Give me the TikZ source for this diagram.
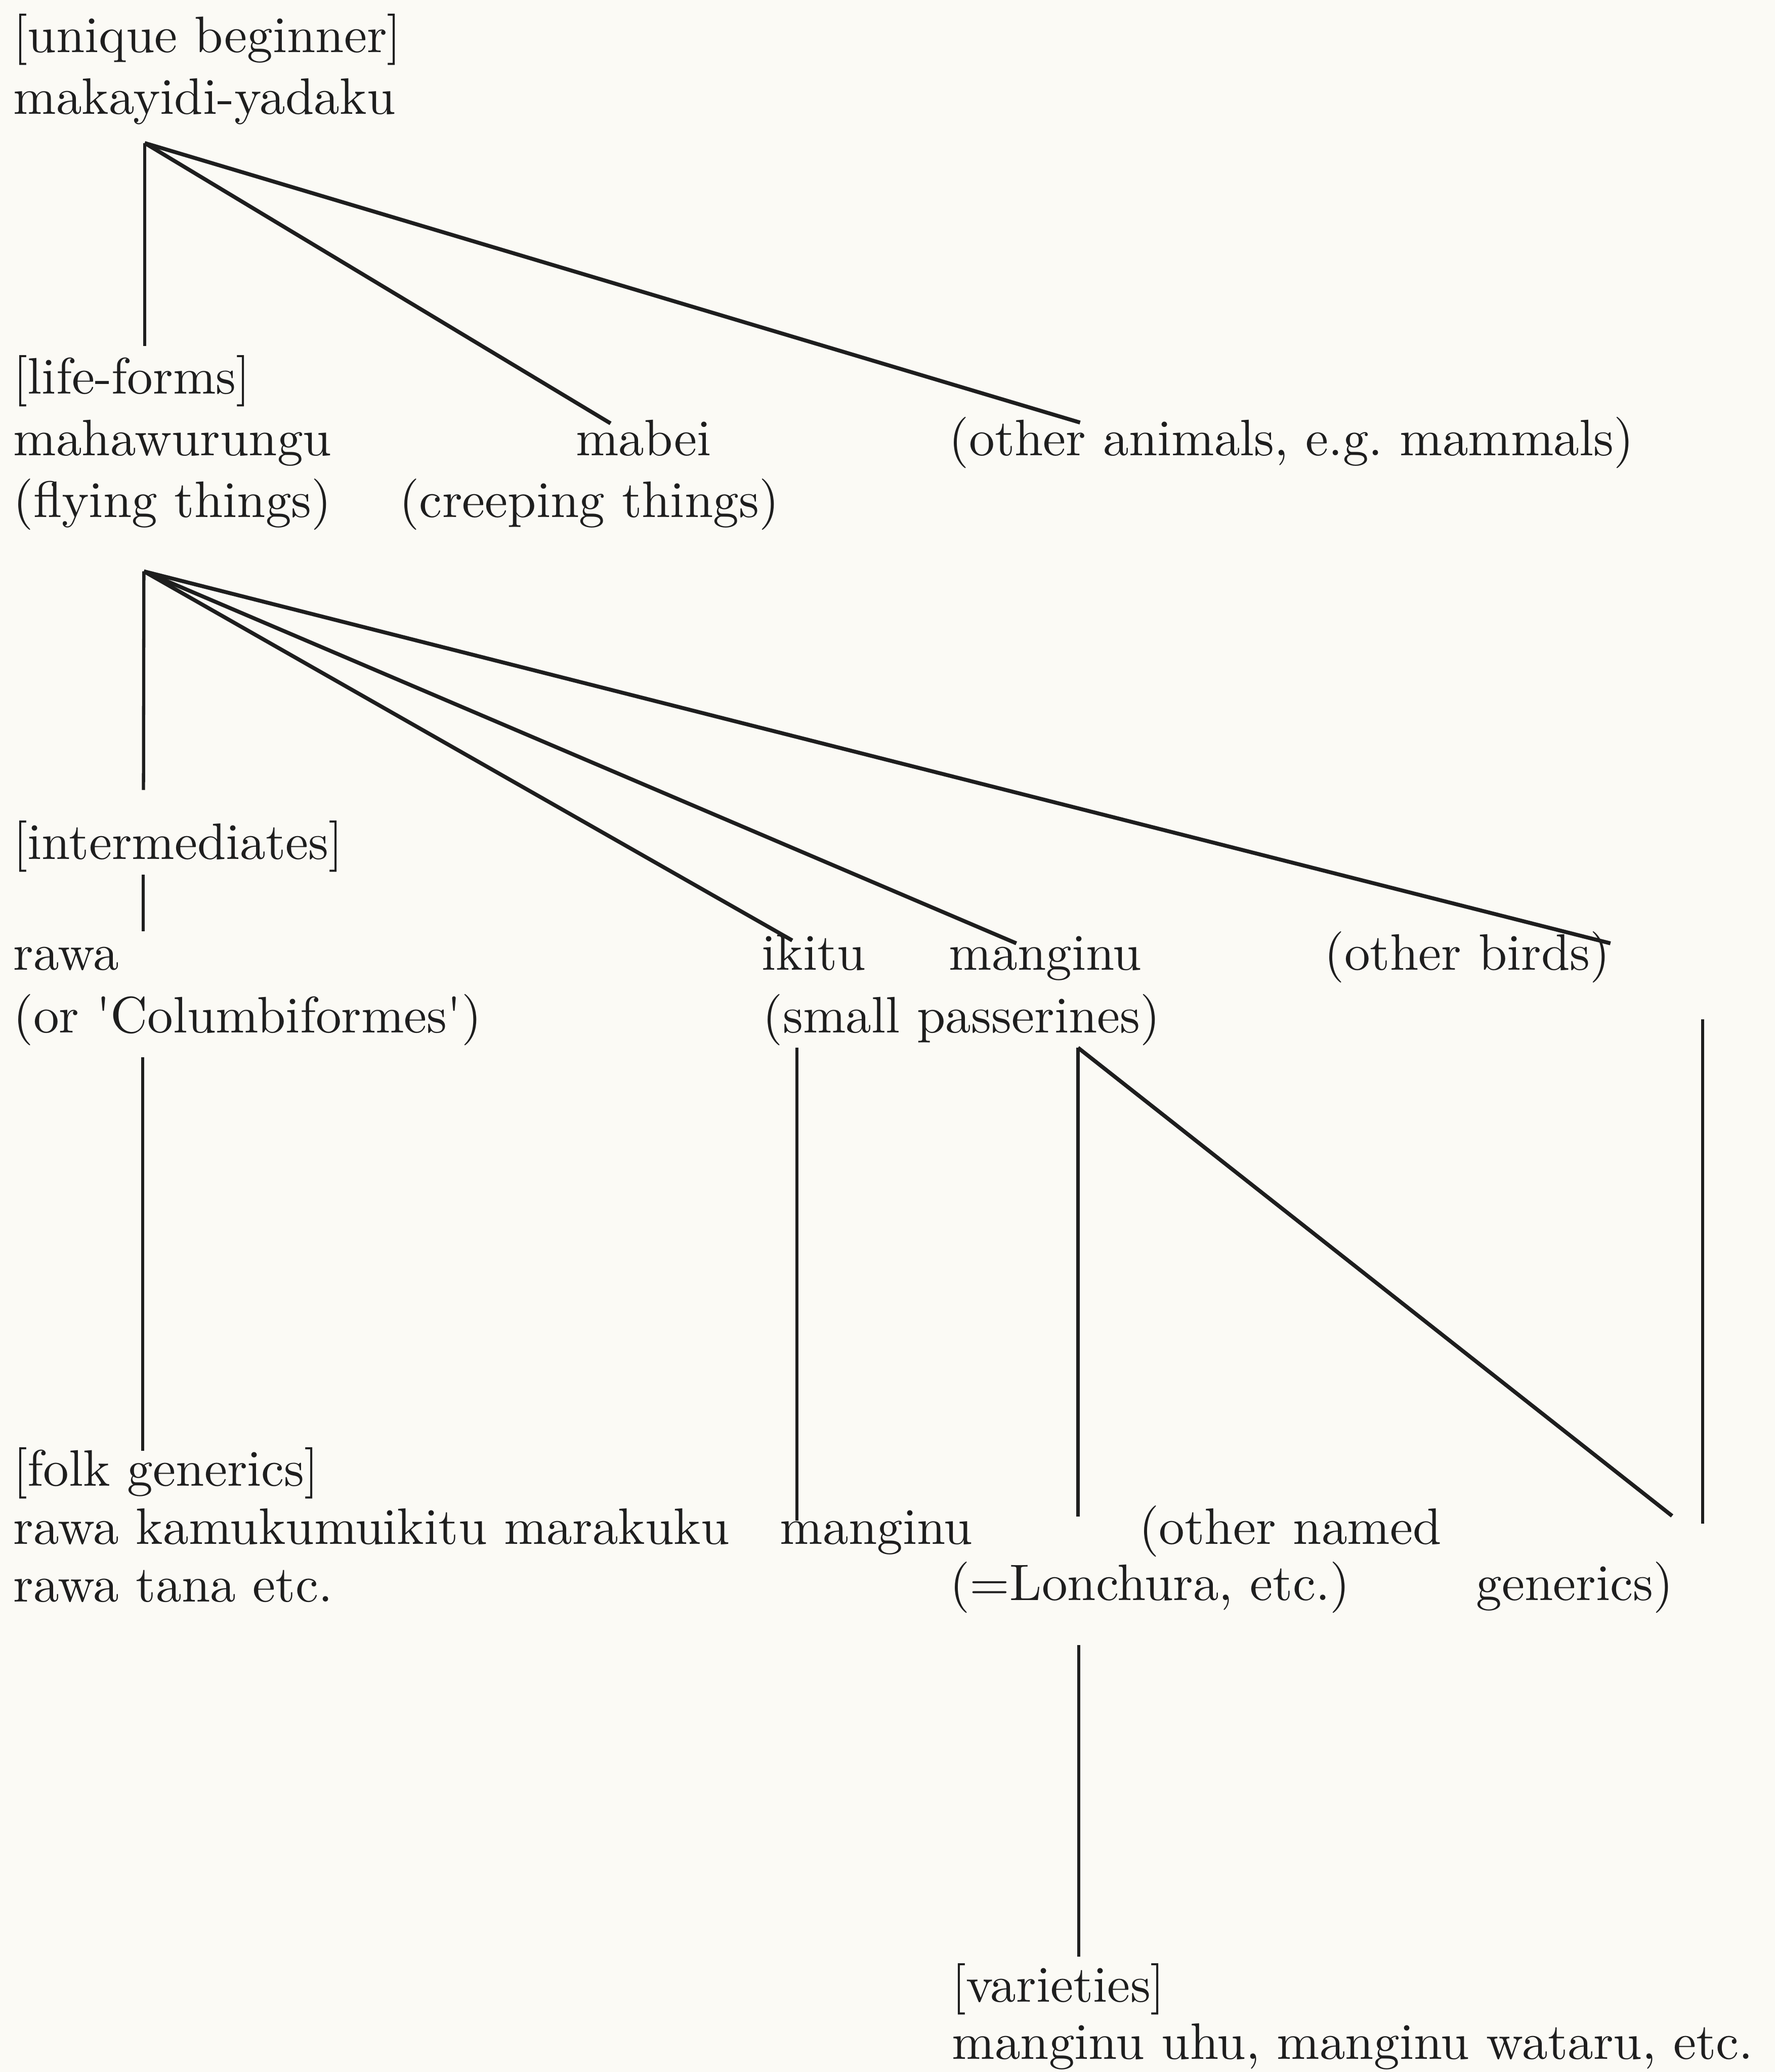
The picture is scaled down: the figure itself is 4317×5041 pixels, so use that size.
\documentclass[tikz,border=0pt]{standalone}
\usepackage{fontspec}
\setmainfont{lmroman10-regular.otf}
\usepackage{tikz}
\usetikzlibrary{positioning}
\definecolor{ScanPaper}{HTML}{FBFAF5}
\definecolor{ScanInk}{HTML}{1E1E1E}
\frenchspacing

\begin{document}
\begin{tikzpicture}[
  x=0.1mm, y=-0.1mm,
  taxon/.style={anchor=base west,inner sep=0pt,text=ScanInk,
    font=\fontsize{35.5}{42}\selectfont},
  branch/.style={draw=ScanInk,line width=2.7pt},
  stem/.style={draw=ScanInk,line width=2.2pt}
]
\fill[ScanPaper] (0,0) rectangle (4317,5041);
\useasboundingbox (0,0) rectangle (4317,5041);

% unique beginner
\node[taxon] (rankub) at (32,127) {[unique beginner]};
\node[taxon] (makayidi) at (32,277) {makayidi-yadaku};

% life-forms
\node[taxon] (ranklf) at (32,958) {[life-forms]};
\node[taxon] (mahawurungu) at (32,1108) {mahawurungu};
\node[taxon] (flying) at (32,1258) {(flying things)};
\node[taxon] (mabei) at (1400,1108) {mabei};
\node[taxon] (creeping) at (971,1258) {(creeping things)};
\node[taxon] (otheranimals) at (2308,1108) {(other animals, e.g. mammals)};

% intermediates
\node[taxon] (rankint) at (32,2090) {[intermediates]};
\node[taxon] (rawa) at (32,2360) {rawa};
\node[taxon] (columbi) at (32,2512) {(or \textquotesingle Columbiformes\textquotesingle)};
\node[taxon] (ikitu) at (1852,2360) {ikitu};
\node[taxon] (passerines) at (1855,2512) {(small passerines)};
\node[taxon] (manginu) at (2308,2360) {manginu};
\node[taxon] (otherbirds) at (3221,2360) {(other birds)};

% folk generics
\node[taxon] (rankfg) at (32,3615) {[folk generics]};
\node[taxon] (rawakam) at (32,3757) {rawa kamukumu};
\node[taxon,xshift=-0.12em] (ikitumar) at (rawakam.base east) {ikitu marakuku};
\node[taxon] (rawatana) at (32,3897) {rawa tana etc.};
\node[taxon] (manginugen) at (1897,3757) {manginu};
\node[taxon] (othernamed) at (2770,3757) {(other named};
\node[taxon] (lonchura) at (2310,3893) {(=Lonchura, etc.)};
\node[taxon] (generics) at (3590,3893) {generics)};

% varieties
\node[taxon] (rankvar) at (2315,4870) {[varieties]};
\node[taxon] (varnames) at (2315,5010) {manginu uhu, manginu wataru, etc.};

% fork points and line ends
\coordinate (ubfork) at (352,348);
\coordinate (toflying) at (352,842);
\coordinate (tomabei) at (1485,1030);
\coordinate (toanimals) at (2627,1028);
\coordinate (lffork) at (350,1390);
\coordinate (tointerm) at (349,1922);
\coordinate (toikitu) at (1927,2288);
\coordinate (tomanginu) at (2472,2295);
\coordinate (tobirds) at (3917,2295);
\coordinate (intstem) at (348,2128);
\coordinate (intend) at (348,2266);
\coordinate (rawastem) at (347,2572);
\coordinate (rawaend) at (347,3530);
\coordinate (ikitustem) at (1938,2549);
\coordinate (ikituend) at (1938,3700);
\coordinate (mgfork) at (2622,2549);
\coordinate (mgend) at (2622,3690);
\coordinate (toothergen) at (4067,3688);
\coordinate (birdstem) at (4141,2480);
\coordinate (birdend) at (4141,3707);
\coordinate (varstem) at (2624,4002);
\coordinate (varend) at (2624,4760);

\foreach \a/\b in {ubfork/tomabei,ubfork/toanimals,lffork/toikitu,lffork/tomanginu,lffork/tobirds,mgfork/toothergen}
  \draw[branch] (\a) -- (\b);
\foreach \a/\b in {ubfork/toflying,lffork/tointerm,intstem/intend,rawastem/rawaend,ikitustem/ikituend,mgfork/mgend,birdstem/birdend,varstem/varend}
  \draw[stem] (\a) -- (\b);
\end{tikzpicture}
\end{document}
